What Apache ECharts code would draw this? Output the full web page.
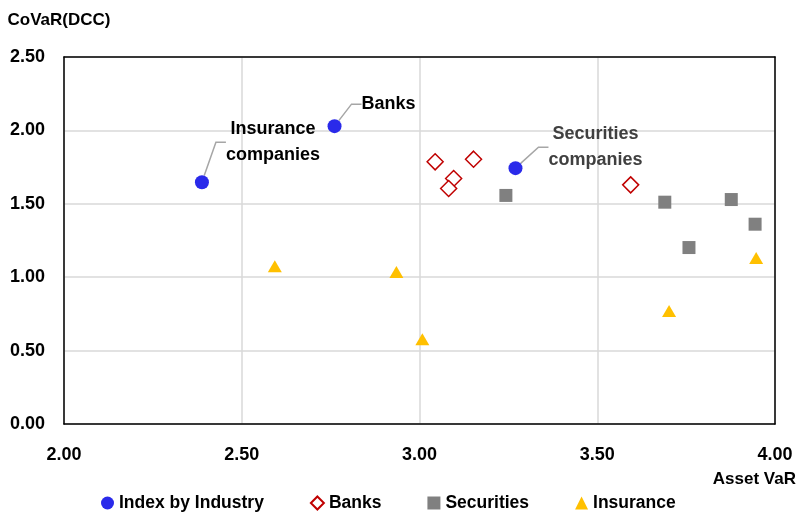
<!DOCTYPE html>
<html>
<head>
<meta charset="utf-8">
<script src="https://cdn.jsdelivr.net/npm/echarts@6/dist/echarts.min.js"></script>
<style>html,body{margin:0;padding:0;background:#fff}#c{width:799px;height:512px}</style>
</head>
<body>
<div id="c"></div>
<script>
// ---- data ----
const indexNames = ['Insurance\ncompanies', 'Banks', 'Securities\ncompanies'];
const indexX = [2.388, 2.761, 3.270];
const indexY = [1.647, 2.029, 1.743];
const banksX = [3.044, 3.152, 3.096, 3.082, 3.594];
const banksY = [1.786, 1.804, 1.672, 1.604, 1.629];
const secX = [3.243, 3.690, 3.877, 3.944, 3.758];
const secY = [1.557, 1.511, 1.529, 1.361, 1.202];
const insX = [2.593, 2.935, 3.008, 3.702, 3.947];
const insY = [1.075, 1.035, 0.578, 0.770, 1.130];
const seriesNames = ['Index by Industry', 'Banks', 'Securities', 'Insurance'];

// label placement (style only)
const labelPos = [[78, -33], [61, -15], [87, -14]];
const labelColors = ['#000', '#000', '#404040'];

const zip = (xs, ys) => xs.map((x, i) => [x, ys[i]]);
const FONT = '"Liberation Sans", Arial, sans-serif';
const tickLabel = {formatter: v => v.toFixed(2), fontWeight: 'bold', fontSize: 18, color: '#000', fontFamily: FONT};

const chart = echarts.init(document.getElementById('c'), null, {renderer: 'canvas'});
chart.setOption({
  animation: false,
  textStyle: {fontFamily: FONT},
  grid: {left: 64, right: 23, top: 57, bottom: 88, show: false},
  legend: {
    top: 489, left: 96, itemGap: 46, itemWidth: 13, itemHeight: 13,
    textStyle: {fontFamily: FONT, fontWeight: 'bold', fontSize: 17.5, color: '#000'},
    data: seriesNames
  },
  xAxis: [{
    type: 'value', min: 2, max: 4, interval: 0.5,
    name: 'Asset VaR', nameLocation: 'end', nameGap: 21,
    nameTextStyle: {align: 'right', verticalAlign: 'top', padding: [47, 0, 0, 0], fontWeight: 'bold', fontSize: 17, color: '#000', fontFamily: FONT},
    axisLine: {lineStyle: {color: '#000', width: 1.5}},
    axisTick: {show: false},
    axisLabel: Object.assign({margin: 22}, tickLabel),
    splitLine: {lineStyle: {color: '#d9d9d9', width: 1.5}}
  }, {
    type: 'value', min: 2, max: 4, position: 'top',
    axisLine: {show: true, onZero: false, lineStyle: {color: '#000', width: 1.5}},
    axisTick: {show: false}, axisLabel: {show: false}, splitLine: {show: false}
  }],
  yAxis: [{
    type: 'value', min: 0, max: 2.5, interval: 0.5,
    name: 'CoVaR(DCC)', nameLocation: 'end', nameGap: 28,
    nameTextStyle: {align: 'center', padding: [0, 10, 0, 0], fontWeight: 'bold', fontSize: 17, color: '#000', fontFamily: FONT},
    axisLine: {show: true, lineStyle: {color: '#000', width: 1.5}},
    axisTick: {show: false},
    axisLabel: Object.assign({margin: 19}, tickLabel),
    splitLine: {lineStyle: {color: '#d9d9d9', width: 1.5}}
  }, {
    type: 'value', min: 0, max: 2.5, position: 'right',
    axisLine: {show: true, onZero: false, lineStyle: {color: '#000', width: 1.5}},
    axisTick: {show: false}, axisLabel: {show: false}, splitLine: {show: false}
  }],
  series: [
    {
      name: seriesNames[0], type: 'scatter', symbol: 'circle', symbolSize: 14, z: 5,
      itemStyle: {color: '#2A2AEA', opacity: 1},
      data: zip(indexX, indexY).map((p, i) => ({
        value: p, name: indexNames[i],
        label: {
          show: true, formatter: indexNames[i], position: labelPos[i],
          align: 'center', verticalAlign: 'middle', lineHeight: 26,
          fontWeight: 'bold', fontSize: 18, color: labelColors[i], fontFamily: FONT
        }
      })),
      labelLine: {show: true, length2: 10, lineStyle: {color: '#a6a6a6', width: 1.5}}
    },
    {
      name: seriesNames[1], type: 'scatter', symbol: 'diamond', symbolSize: 16,
      itemStyle: {color: '#fff', borderColor: '#C00000', borderWidth: 1.5, opacity: 1},
      data: zip(banksX, banksY)
    },
    {
      name: seriesNames[2], type: 'scatter', symbol: 'rect', symbolSize: 13,
      itemStyle: {color: '#808080', opacity: 1},
      data: zip(secX, secY)
    },
    {
      name: seriesNames[3], type: 'scatter', symbol: 'triangle', symbolSize: [14, 12],
      itemStyle: {color: '#FFC000', opacity: 1},
      data: zip(insX, insY)
    }
  ]
});
</script>
</body>
</html>
